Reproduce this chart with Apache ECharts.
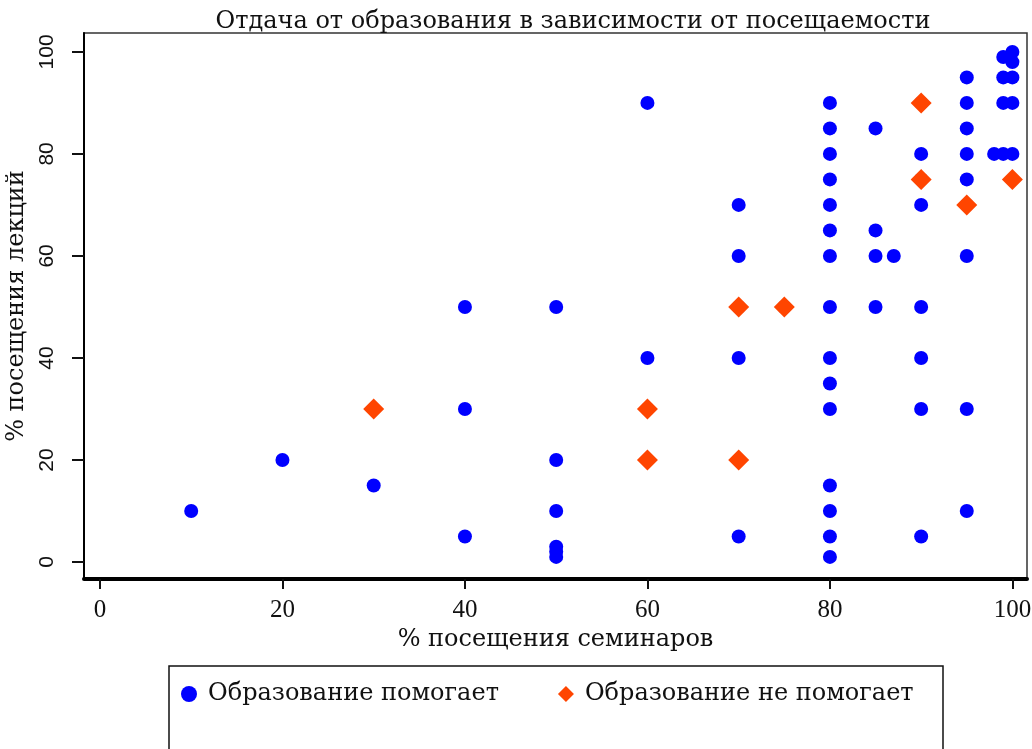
<!DOCTYPE html>
<html>
<head>
<meta charset="utf-8">
<script src="https://cdn.jsdelivr.net/npm/echarts@6/dist/echarts.min.js"></script>
<style>
  html, body { margin: 0; padding: 0; background: #fff; }
  #chart { width: 1032px; height: 749px; }
</style>
</head>
<body>
<div id="chart"></div>
<script>
// % посещения семинаров / % посещения лекций
const helpsX = [10, 20, 30, 40, 40, 40, 50, 50, 50, 50, 50, 50,
  60, 60, 60, 70, 70, 70, 70, 70, 75,
  80, 80, 80, 80, 80, 80, 80, 80, 80, 80, 80, 80, 80, 80, 80,
  85, 85, 85, 85, 87,
  90, 90, 90, 90, 90, 90, 90, 90,
  95, 95, 95, 95, 95, 95, 95, 95, 95,
  98, 99, 100, 99, 100, 99, 100, 99, 100, 100];
const helpsY = [10, 20, 15, 50, 30, 5, 50, 20, 10, 3, 2, 1,
  90, 40, 30, 70, 60, 50, 40, 5, 50,
  90, 85, 80, 75, 70, 65, 60, 50, 40, 35, 30, 15, 10, 5, 1,
  85, 65, 60, 50, 60,
  90, 80, 75, 70, 50, 40, 30, 5,
  95, 90, 85, 80, 75, 70, 60, 30, 10,
  80, 80, 80, 90, 90, 95, 95, 99, 98, 100];

const notHelpsX = [30, 60, 60, 70, 70, 75, 90, 90, 95, 100];
const notHelpsY = [30, 30, 20, 50, 20, 50, 90, 75, 70, 75];

const tickValues = [0, 20, 40, 60, 80, 100];
const seriesNames = ["Образование помогает", "Образование не помогает"];
const titleText = "Отдача от образования в зависимости от посещаемости";
const xTitle = "% посещения семинаров";
const yTitle = "% посещения лекций";

const pairs = (xs, ys) => xs.map((x, i) => [x, ys[i]]);

const serif = "DejaVu Serif";
const chart = echarts.init(document.getElementById("chart"), null, { renderer: "canvas" });

chart.setOption({
  backgroundColor: "#fff",
  animation: false,
  title: {
    text: titleText,
    left: 573,
    top: 10,
    textAlign: "center",
    padding: 0,
    textStyle: { fontFamily: serif, fontSize: 24, fontWeight: "normal", color: "#111" },
  },
  grid: {
    left: 84,
    right: 5,
    top: 33,
    bottom: 170,
    show: true,
    borderColor: "#333",
    borderWidth: 1.5,
    outerBoundsMode: "none",
  },
  legend: {
    left: 176,
    top: 677,
    itemWidth: 16,
    itemHeight: 16,
    itemGap: 59,
    data: seriesNames,
    textStyle: { fontFamily: serif, fontSize: 24, color: "#111", padding: [0, 0, 0, 6] },
  },
  xAxis: {
    type: "value",
    min: -1.75,
    max: 101.6,
    name: xTitle,
    nameLocation: "middle",
    nameGap: 43,
    nameTextStyle: { fontFamily: serif, fontSize: 24, color: "#111" },
    splitLine: { show: false },
    axisLine: { show: true, onZero: false, lineStyle: { color: "#000", width: 4 } },
    axisTick: {
      show: true,
      customValues: tickValues,
      length: 10,
      lineStyle: { color: "#111", width: 2 },
    },
    axisLabel: {
      customValues: tickValues,
      margin: 19,
      fontFamily: "Liberation Serif",
      fontSize: 25,
      color: "#111",
    },
  },
  yAxis: {
    type: "value",
    min: -3.33,
    max: 103.7,
    name: yTitle,
    nameLocation: "middle",
    nameGap: 50,
    nameTextStyle: { fontFamily: serif, fontSize: 24, color: "#111" },
    splitLine: { show: false },
    axisLine: { show: true, onZero: false, lineStyle: { color: "#000", width: 2 } },
    axisTick: {
      show: true,
      customValues: tickValues,
      length: 12,
      lineStyle: { color: "#111", width: 2 },
    },
    axisLabel: {
      customValues: tickValues,
      rotate: 90,
      margin: 26,
      fontFamily: "Liberation Sans",
      fontSize: 21,
      color: "#111",
    },
  },
  graphic: [
    {
      type: "rect",
      shape: { x: 169, y: 666, width: 774, height: 120 },
      style: { fill: "none", stroke: "#111", lineWidth: 1.5 },
      z: 0,
    },
  ],
  series: [
    {
      name: seriesNames[0],
      type: "scatter",
      symbol: "circle",
      symbolSize: 14,
      itemStyle: { color: "#0000ff", opacity: 1 },
      data: pairs(helpsX, helpsY),
      z: 2,
    },
    {
      name: seriesNames[1],
      type: "scatter",
      symbol: "diamond",
      symbolSize: 21,
      itemStyle: { color: "#ff4500", opacity: 1 },
      data: pairs(notHelpsX, notHelpsY),
      z: 3,
    },
  ],
});
</script>
</body>
</html>
